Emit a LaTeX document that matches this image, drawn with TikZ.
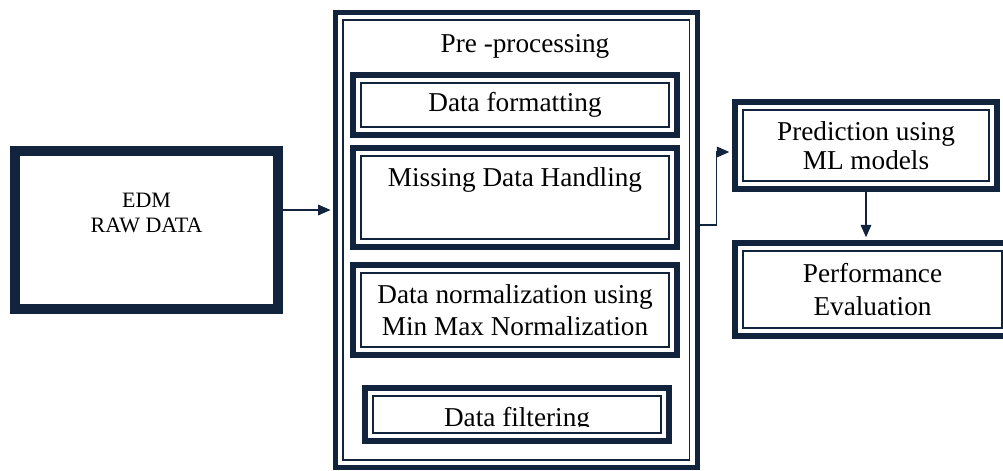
\documentclass[tikz,border=0pt]{standalone}
\usepackage{fontspec}
\setmainfont{Liberation Serif}
\usetikzlibrary{calc,positioning,arrows.meta}
\definecolor{navy}{HTML}{12233D}

\tikzstyle{edmbox}    = [rectangle, draw=navy, line width=0.2cm, minimum width=5.26cm, minimum height=3.16cm]
\tikzstyle{prebox}    = [rectangle, draw=navy, line width=0.1cm, inner sep=0pt,
                         path picture={\draw[navy, line width=0.035cm] ([shift={(0.15cm,0.15cm)}]path picture bounding box.south west) rectangle ([shift={(-0.15cm,-0.15cm)}]path picture bounding box.north east);}]
\tikzstyle{stagebox}  = [rectangle, draw=navy, line width=0.13cm, inner sep=0pt,
                         path picture={\draw[navy, line width=0.6pt] ([shift={(0.16cm,0.16cm)}]path picture bounding box.south west) rectangle ([shift={(-0.16cm,-0.16cm)}]path picture bounding box.north east);}]
\tikzstyle{stagetext} = [font=\fontsize{15.5}{18}\selectfont, align=center, inner sep=0pt]
\tikzstyle{arrow}     = [draw=navy, line width=0.8pt, -{Triangle[length=7pt,width=6pt]}, shorten >=0.05cm]

\begin{document}
\begin{tikzpicture}[]
		\useasboundingbox (0,0) rectangle (20.06,9.4);

		% raw data
		\node[edmbox] (edm) at (2.93,4.80) {};
		\node[stagetext, font=\fontsize{12.5}{14}\selectfont] (edmtext) at ([yshift=0.34cm]edm.center) {EDM\\RAW DATA};

		% pre-processing block
		\node[prebox, minimum width=7.23cm, minimum height=9.1cm] (pre) at (10.325,4.6) {};
		\node[stagetext] (pretitle) at (10.5,8.48) {Pre -processing};

		\node[stagebox, minimum width=6.48cm, minimum height=1.2cm] (fmt) at (10.3,7.3) {};
		\node[stagetext] (fmttext) at (fmt.center) {Data formatting};

		\node[stagebox, minimum width=6.48cm, minimum height=1.98cm] (miss) at (10.3,5.45) {};
		\node[stagetext] (misstext) at ([yshift=0.36cm]miss.center) {Missing Data Handling};

		\node[stagebox, minimum width=6.48cm, minimum height=1.8cm] (norm) at (10.3,3.2) {};
		\node[stagetext] (normtext) at (norm.center) {Data normalization using\\Min Max Normalization};

		\node[stagebox, minimum width=6.08cm, minimum height=1.06cm] (filt) at (10.34,1.11) {};
		\begin{scope}
			\clip (filt.north west) rectangle ($(filt.south east)+(0,0.36)$);
			\node[stagetext, anchor=base] (filttext) at ([yshift=-0.23cm]filt.center) {Data filtering};
		\end{scope}

		% model and evaluation
		\node[stagebox, minimum width=5.24cm, minimum height=1.74cm] (pred) at (17.32,6.49) {};
		\node[stagetext, font=\fontsize{15.5}{16.5}\selectfont] (predtext) at (pred.center) {Prediction using\\ML models};

		\node[stagebox, minimum width=5.5cm, minimum height=1.86cm] (perf) at (17.45,3.61) {};
		\node[stagetext, font=\fontsize{15.5}{19}\selectfont] (perftext) at (perf.center) {Performance\\Evaluation};

		\draw[arrow] ([yshift=0.4cm]edm.east) -- ([yshift=0.4cm]edm.east -| pre.west);
		\draw[arrow] ([yshift=0.3cm]pre.east) -- ++(0.34,0) |- ([yshift=-0.13cm]pred.west);
		\draw[arrow] (pred.south) -- (pred.south |- perf.north);
	\end{tikzpicture}
\end{document}
